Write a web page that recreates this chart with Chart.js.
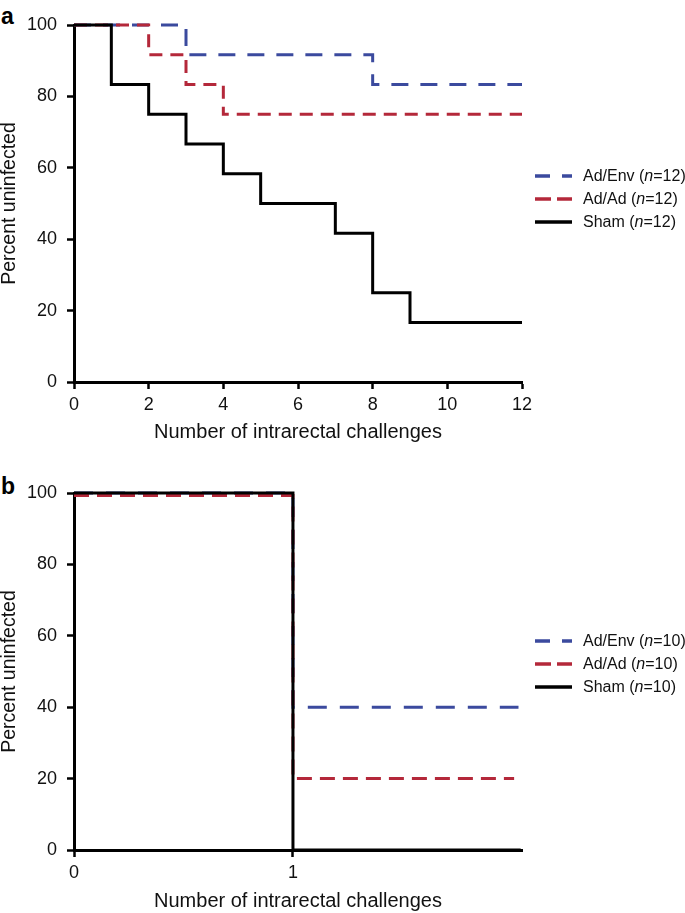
<!DOCTYPE html>
<html>
<head>
<meta charset="utf-8">
<title>Percent uninfected - intrarectal challenges</title>
<script src="https://cdn.jsdelivr.net/npm/chart.js@4.4.1/dist/chart.umd.min.js"></script>
<style>
  html, body { margin: 0; padding: 0; background: #fff; overflow: hidden; }
  body { width: 685px; height: 913px; position: relative; font-family: 'Liberation Sans', Arial, sans-serif; }
  canvas { position: absolute; left: 0; }
  .panel { position: absolute; left: 1px; font-weight: bold; font-size: 23px; line-height: 23px; }
  .legend { position: absolute; left: 535px; font-size: 16px; line-height: 16px; color: #111; }
  .legend .row { position: absolute; left: 0; white-space: nowrap; height: 16px; }
  .legend svg { position: absolute; left: 0; top: 6px; }
  .legend span { position: absolute; left: 48px; top: 0; }
</style>
</head>
<body>
<div class="panel" style="top:5px">a</div>
<canvas id="chartA" width="685" height="450" style="top:0"></canvas>
<div class="legend" id="legendA" style="top:168px"></div>

<div class="panel" style="top:475px">b</div>
<canvas id="chartB" width="685" height="445" style="top:468px"></canvas>
<div class="legend" id="legendB" style="top:633px"></div>

<script>
// panel a: 12 animals per group
var seriesNames = ['Ad/Env', 'Ad/Ad', 'Sham'];
var nA = 12;
var envX_A  = [0, 3, 8, 12];
var envY_A  = [100, 91.7, 83.3, 83.3];
var adX_A   = [0, 2, 3, 4, 12];
var adY_A   = [100, 91.7, 83.3, 75, 75];
var shamX_A = [0, 1, 2, 3, 4, 5, 7, 8, 9, 12];
var shamY_A = [100, 83.3, 75, 66.7, 58.3, 50, 41.7, 25, 16.7, 16.7];
var xTicksA = [0, 2, 4, 6, 8, 10, 12];

// panel b: 10 animals per group
var nB = 10;
var envX_B  = [0, 1, 2.03];
var envY_B  = [100, 40, 40];
var adX_B   = [0, 1, 2.01];
var adY_B   = [99.3, 20, 20];
var shamX_B = [0, 1, 2.04];
var shamY_B = [100, 0, 0];
var xTicksB = [0, 1];

var yTicks = [0, 20, 40, 60, 80, 100];

var colEnv = '#3b4a9e';
var colAd = '#b4283a';
var colSham = '#000000';

function pts(xs, ys) {
  var out = [];
  for (var i = 0; i < xs.length; i++) out.push({x: xs[i], y: ys[i]});
  return out;
}

function ds(label, xs, ys, color, dash, order) {
  return {
    label: label,
    data: pts(xs, ys),
    borderColor: color,
    borderWidth: 3,
    borderDash: dash,
    borderCapStyle: 'butt',
    borderJoinStyle: 'miter',
    pointRadius: 0,
    stepped: true,
    tension: 0,
    clip: false,
    order: order
  };
}

var fam = "'Liberation Sans', Arial, sans-serif";
var tickFont = {family: fam, size: 18};
var xTitleFont = {family: fam, size: 20, lineHeight: 1.2};
var yTitleFont = {family: fam, size: 19.5, lineHeight: 1};

function makeChart(id, datasets, xMax, xTicks, xScaleH, titlePad) {
  var ctx = document.getElementById(id).getContext('2d');
  return new Chart(ctx, {
    type: 'line',
    data: {datasets: datasets},
    options: {
      responsive: false,
      animation: false,
      events: [],
      layout: {padding: {top: 25, right: 163, left: 0, bottom: 0}},
      plugins: {legend: {display: false}, tooltip: {enabled: false}},
      scales: {
        x: {
          type: 'linear',
          min: 0,
          max: xMax,
          afterBuildTicks: function(scale) {
            scale.ticks = xTicks.map(function(v) { return {value: v}; });
          },
          afterFit: function(scale) { scale.height = xScaleH; },
          grid: {drawOnChartArea: false, drawTicks: true, tickLength: 7, tickWidth: 2.5, tickColor: '#000'},
          border: {display: true, color: '#000', width: 3},
          ticks: {color: '#111', font: tickFont, padding: 5, maxRotation: 0},
          title: {display: true, text: 'Number of intrarectal challenges', color: '#111', font: xTitleFont, padding: {top: 0, bottom: titlePad}}
        },
        y: {
          min: 0,
          max: 100,
          afterBuildTicks: function(scale) {
            scale.ticks = yTicks.map(function(v) { return {value: v}; });
          },
          afterFit: function(scale) { scale.width = 74; },
          grid: {drawOnChartArea: false, drawTicks: true, tickLength: 7, tickWidth: 2.5, tickColor: '#000'},
          border: {display: true, color: '#000', width: 3},
          ticks: {color: '#111', font: tickFont, padding: 10},
          title: {display: true, text: 'Percent uninfected', color: '#111', font: yTitleFont, padding: 0}
        }
      }
    }
  });
}

makeChart('chartA', [
  ds(seriesNames[0], envX_A, envY_A, colEnv, [17, 12], 2),
  ds(seriesNames[1], adX_A, adY_A, colAd, [13, 8], 1),
  ds(seriesNames[2], shamX_A, shamY_A, colSham, [], 0)
], 12, xTicksA, 68, 6);

makeChart('chartB', [
  ds(seriesNames[0], envX_B, envY_B, colEnv, [19, 13], 2),
  ds(seriesNames[1], adX_B, adY_B, colAd, [15, 8], 1),
  ds(seriesNames[2], shamX_B, shamY_B, colSham, [], 0)
], 2.046, xTicksB, 63, 0);

function buildLegend(id, n) {
  var el = document.getElementById(id);
  var items = [
    {name: seriesNames[0], color: colEnv, dash: '15 12'},
    {name: seriesNames[1], color: colAd, dash: '16 6'},
    {name: seriesNames[2], color: colSham, dash: ''}
  ];
  items.forEach(function(it, i) {
    var row = document.createElement('div');
    row.className = 'row';
    row.style.top = (i * 23) + 'px';
    row.innerHTML = '<svg width="40" height="4"><line x1="0" y1="2" x2="37" y2="2" stroke="' + it.color +
      '" stroke-width="3.5"' + (it.dash ? ' stroke-dasharray="' + it.dash + '"' : '') + '/></svg>' +
      '<span>' + it.name + ' (<i>n</i>=' + n + ')</span>';
    el.appendChild(row);
  });
}
buildLegend('legendA', nA);
buildLegend('legendB', nB);
</script>
</body>
</html>
